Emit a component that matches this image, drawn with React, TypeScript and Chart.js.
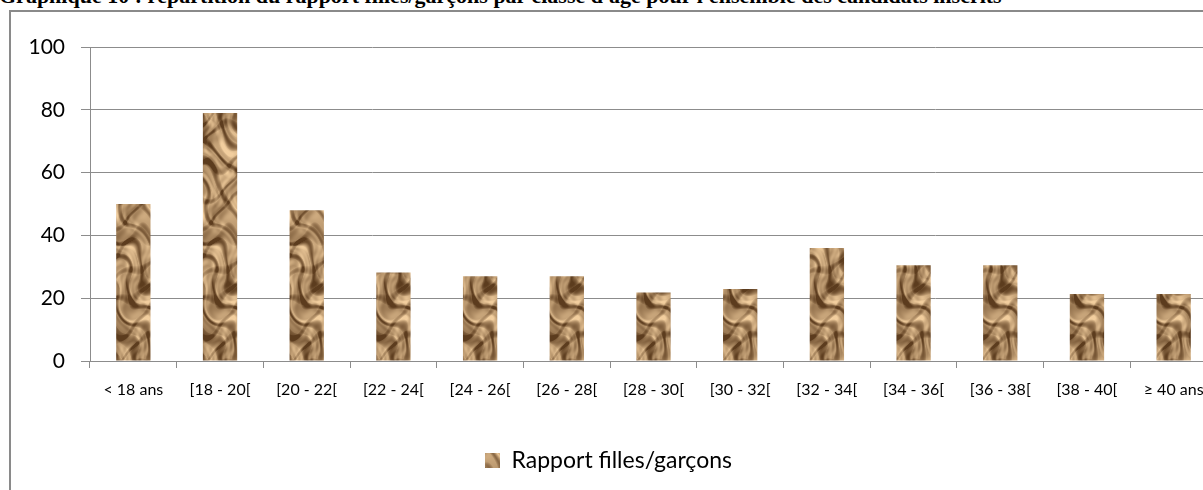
import React, { useEffect, useRef } from "react";
import { Chart, registerables } from "chart.js";

Chart.register(...registerables);

const ageClasses = [
  "< 18 ans",
  "[18 - 20[",
  "[20 - 22[",
  "[22 - 24[",
  "[24 - 26[",
  "[26 - 28[",
  "[28 - 30[",
  "[30 - 32[",
  "[32 - 34[",
  "[34 - 36[",
  "[36 - 38[",
  "[38 - 40[",
  "≥ 40 ans",
];

const girlsBoysRatio = [50, 79, 48, 28.2, 27, 27, 21.8, 22.9, 36, 30.5, 30.5, 21.3, 21.3];

const yTicks = [0, 20, 40, 60, 80, 100];

const seriesLabel = "Rapport filles/garçons";
const titleText =
  "Graphique 10 : répartition du rapport filles/garçons par classe d'âge pour l'ensemble des candidats inscrits";

// Seamless sandy, crumpled-paper texture used to fill the bars
function makeSandPattern(ctx: CanvasRenderingContext2D): CanvasPattern | string {
  const w = 86;
  const h = 240;
  const c = document.createElement("canvas");
  c.width = w;
  c.height = h;
  const g = c.getContext("2d");
  if (!g) return "#c19a6b";
  const img = g.createImageData(w, h);
  const dark = [92, 60, 30];
  const light = [242, 206, 158];
  const TAU = Math.PI * 2;
  for (let y = 0; y < h; y++) {
    for (let x = 0; x < w; x++) {
      const X = x / w;
      const Y = y / h;
      // periodic domain warp
      const wx = X + 0.07 * Math.sin(TAU * (3 * Y + X)) + 0.03 * Math.sin(TAU * (7 * Y - 2 * X));
      const wy = Y + 0.03 * Math.sin(TAU * (2 * X + 2 * Y) + 0.8);
      let t =
        0.62 +
        0.12 * Math.sin(TAU * (2 * wx + 3 * wy)) +
        0.09 * Math.sin(TAU * (-3 * wx + 5 * wy) + 1.3) +
        0.06 * Math.sin(TAU * (7 * wx + 11 * wy) + 0.4) +
        0.05 * Math.sin(TAU * (13 * wx - 9 * wy) + 2.2);
      // broad shaded bands running diagonally
      const band = Math.sin(TAU * (-4 * wx + 7 * wy) + 0.6 * Math.sin(TAU * 3 * wy));
      if (band > 0.3) t -= (band - 0.3) * 0.7;
      const crease = Math.sin(TAU * (2 * wx + 9 * wy) + 0.7);
      if (crease > 0.6) t -= (crease - 0.6) * 0.8;
      const hi = Math.sin(TAU * (-3 * wx + 8 * wy) + 2.1);
      if (hi > 0.6) t += (hi - 0.6) * 0.45;
      t = Math.max(0, Math.min(1, t));
      const i = (y * w + x) * 4;
      img.data[i] = dark[0] + (light[0] - dark[0]) * t;
      img.data[i + 1] = dark[1] + (light[1] - dark[1]) * t;
      img.data[i + 2] = dark[2] + (light[2] - dark[2]) * t;
      img.data[i + 3] = 255;
    }
  }
  g.putImageData(img, 0, 0);
  return ctx.createPattern(c, "repeat") || "#c19a6b";
}

export default function App() {
  const canvasRef = useRef<HTMLCanvasElement | null>(null);

  useEffect(() => {
    document.body.style.margin = "0";
    document.body.style.overflow = "hidden";
    const canvas = canvasRef.current;
    if (!canvas) return;
    const ctx = canvas.getContext("2d");
    if (!ctx) return;
    const fill = makeSandPattern(ctx);

    const chart = new Chart(canvas, {
      type: "bar",
      data: {
        labels: ageClasses,
        datasets: [
          {
            label: seriesLabel,
            data: girlsBoysRatio,
            backgroundColor: fill as any,
            borderWidth: 0,
            barPercentage: 0.8,
            categoryPercentage: 0.495,
          },
        ],
      },
      options: {
        animation: false,
        responsive: false,
        maintainAspectRatio: false,
        layout: { padding: { top: 47, right: 23, left: 0, bottom: 8 } },
        plugins: {
          tooltip: { enabled: false },
          title: { display: false },
          legend: {
            display: true,
            position: "bottom",
            labels: {
              boxWidth: 15,
              boxHeight: 15,
              padding: 10,
              color: "#000",
              font: { family: "Lato", size: 23 },
            },
          },
        },
        scales: {
          x: {
            afterFit: (s: any) => {
              s.height = 78;
            },
            grid: {
              display: true,
              offset: true,
              drawOnChartArea: false,
              drawTicks: true,
              tickLength: 7,
              color: "#8c8c8c",
            },
            border: { display: true, color: "#8c8c8c", width: 1 },
            ticks: {
              autoSkip: false,
              maxRotation: 0,
              minRotation: 0,
              padding: 12,
              color: "#000",
              font: { family: "Lato", size: 16 },
            },
          },
          y: {
            min: yTicks[0],
            max: yTicks[yTicks.length - 1],
            afterFit: (s: any) => {
              s.width = 90;
            },
            afterBuildTicks: (s: any) => {
              s.ticks = yTicks.map((v) => ({ value: v }));
            },
            grid: {
              color: "#8c8c8c",
              tickLength: 9,
              drawTicks: true,
            },
            border: { display: true, color: "#8c8c8c", width: 1 },
            ticks: {
              padding: 16,
              color: "#000",
              font: { family: "Lato", size: 21 },
            },
          },
        },
      },
    });
    return () => chart.destroy();
  }, []);

  return (
    <div
      style={{
        position: "relative",
        width: 1203,
        height: 490,
        overflow: "hidden",
        background: "#fff",
      }}
    >
      <div
        style={{
          position: "absolute",
          left: -1,
          top: -17,
          whiteSpace: "nowrap",
          fontFamily: "'Liberation Serif', serif",
          fontWeight: "bold",
          fontSize: 22,
          lineHeight: "26px",
          color: "#000",
        }}
      >
        {titleText}
      </div>
      <div
        style={{
          position: "absolute",
          left: 9,
          top: 10,
          width: 1260,
          height: 520,
          border: "2px solid #8a8a8a",
          boxSizing: "border-box",
        }}
      />
      <canvas
        ref={canvasRef}
        width={1240}
        height={490}
        style={{ position: "absolute", left: 0, top: 0, width: 1240, height: 490 }}
      />
    </div>
  );
}
